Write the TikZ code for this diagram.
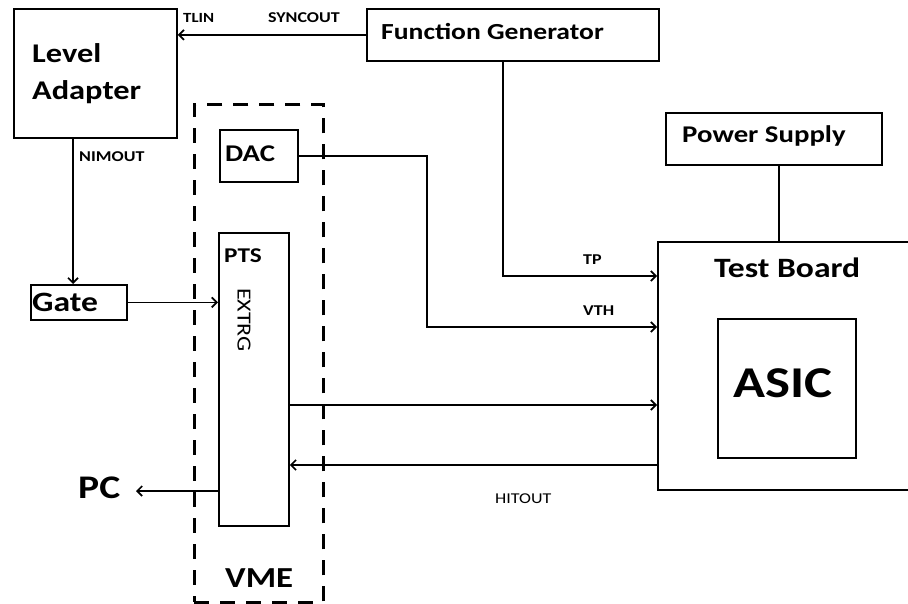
\documentclass[tikz,border=0pt]{standalone}
\usepackage{fontspec}
\setmainfont{Carlito}[FakeStretch=1.2]
\usetikzlibrary{arrows.meta, calc}

\tikzset{
  box/.style={draw, line width=1.8pt, inner sep=0pt, anchor=north west},
  lbl/.style={inner sep=0pt, anchor=base west, font=\bfseries\fontsize{#1}{#1}\selectfont},
  thin lbl/.style={inner sep=0pt, anchor=base west, font=\fontsize{#1}{#1}\selectfont},
  arr/.style={line width=1.7pt, -{Straight Barb[length=5pt,width=10pt]}},
  wire/.style={line width=1.7pt}
}

\begin{document}
\begin{tikzpicture}[x=1pt, y=-1pt]
                    \useasboundingbox (0,0) rectangle (908,604);

                    %boxes
                    \node[box, minimum width=163pt, minimum height=129pt] (lvl) at (13,8) {};
                    \node[box, minimum width=292pt, minimum height=52pt] (fg) at (366,8) {};
                    \node[box, dash pattern=on 15pt off 11pt, line width=2.8pt, minimum width=129pt, minimum height=498pt] (vme) at (193,103) {};
                    \node[box, minimum width=78pt, minimum height=52pt] (dac) at (219,129) {};
                    \node[box, minimum width=70pt, minimum height=293pt] (pts) at (218,232) {};
                    \node[box, minimum width=96pt, minimum height=35pt] (gate) at (30,284) {};
                    \node[box, minimum width=216pt, minimum height=52pt] (ps) at (665,112) {};
                    \node[box, minimum width=260pt, minimum height=248pt] (tb) at (657,241) {};
                    \node[box, minimum width=138pt, minimum height=139pt] (asic) at (717,318) {};

                    %texts
                    \node[lbl=27] (lvlA) at (32,63) {Level};
                    \node[lbl=27] (lvlB) at (32,100) {Adapter};
                    \node[lbl=23] (fgT) at (381,40) {Function Generator};
                    \node[lbl=24] (dacT) at (225,162) {DAC};
                    \node[lbl=21] (ptsT) at (224,262) {PTS};
                    \node[thin lbl=20, anchor=center, rotate=-90] (extrg) at (244,320) {EXTRG};
                    \node[lbl=28] (gateT) at (32,312) {Gate};
                    \node[lbl=24] (psT) at (682,143) {Power Supply};
                    \node[lbl=28] (tbT) at (714,278) {Test Board};
                    \node[lbl=44] (asicT) at (733,397) {ASIC};
                    \node[lbl=33] (pc) at (78,498) {PC};
                    \node[lbl=29] (vmeT) at (225,587) {VME};

                    %signal names
                    \node[lbl=14] (tlin) at (183,23) {TLIN};
                    \node[lbl=15] (syncout) at (268,23) {SYNCOUT};
                    \node[lbl=15] (nimout) at (79,162) {NIMOUT};
                    \node[lbl=15] (tp) at (583,265) {TP};
                    \node[lbl=15] (vth) at (583,316) {VTH};
                    \node[thin lbl=15] (hitout) at (495,503) {HITOUT};

                    %connections
                    \draw[arr] (fg.west) -- (fg.west -| lvl.east);
                    \draw[arr] ([xshift=60pt]lvl.south west) -- ([xshift=43pt]gate.north west);
                    \draw[arr] (gate.east) -- (gate.east -| pts.west);
                    \draw[arr] (dac.east) -- ++(128,0) |- (tb.west |- 0,327);
                    \draw[arr] ([xshift=137pt]fg.south west) |- (tb.west |- 0,276);
                    \draw[wire] ([xshift=5pt]ps.south) -- ([xshift=5pt]ps.south |- tb.north);
                    \draw[arr] (pts.east |- 0,405) -- (tb.west |- 0,405);
                    \draw[arr] (tb.west |- 0,465) -- (pts.east |- 0,465);
                    \coordinate (pcin) at (136,491);
                    \draw[arr] (pts.west |- pcin) -- (pcin);

\end{tikzpicture}
\end{document}
